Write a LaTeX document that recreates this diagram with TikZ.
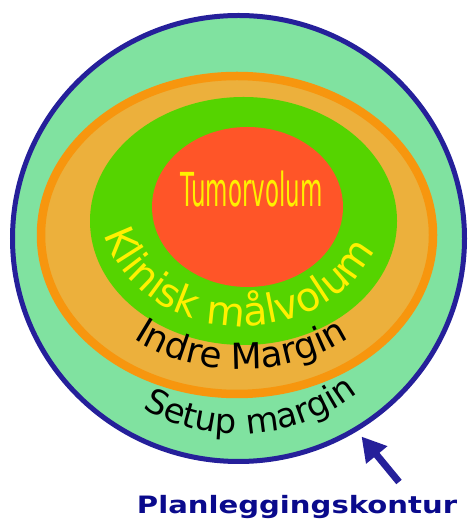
\documentclass[tikz,border=0pt]{standalone}
\usepackage{fontspec}
\setmainfont{DejaVu Sans}
\usetikzlibrary{decorations.text, arrows.meta}
\definecolor{setupgreen}{RGB}{128,226,160}
\definecolor{planblue}{RGB}{37,32,154}
\definecolor{textblue}{RGB}{10,10,140}
\definecolor{orangeline}{RGB}{247,150,14}
\definecolor{orangefill}{RGB}{236,176,60}
\definecolor{ctvgreen}{RGB}{85,212,0}
\definecolor{tumorred}{RGB}{255,85,40}
\definecolor{labelyellow}{RGB}{255,240,0}
\begin{document}
\begin{tikzpicture}[x=1bp,y=1bp,
  curvedlabel/.style={decorate, decoration={text along path, text align=center, text={#1}}}]
\useasboundingbox (0,0) rectangle (468,521);
% planning contour
\draw[fill=setupgreen, draw=planblue, line width=5bp] (238.5,282.5) ellipse [x radius=226, y radius=223];
% internal margin
\draw[fill=orangefill, draw=orangeline, line width=8.5bp] (237,286) ellipse [x radius=196, y radius=159];
% clinical target volume
\fill[ctvgreen] (243.5,300) ellipse [x radius=153.5, y radius=124];
% tumour volume
\fill[tumorred] (247.5,314) ellipse [x radius=95.5, y radius=80];
% labels
\node[anchor=base, text=labelyellow, font=\fontsize{47}{47}\selectfont, inner sep=0pt] (tumor) at (251.5,314) {\scalebox{0.49}[1]{Tumorvolum}};
\path[curvedlabel={|\color{labelyellow}\fontsize{40}{40}\selectfont|Klinisk målvolum}]
  (242,316) ++(176:142 and 121) arc[start angle=176, end angle=356, x radius=142, y radius=121];
\path[curvedlabel={|\color{black}\fontsize{36}{36}\selectfont|Indre Margin}]
  (241,286) ++(180:170 and 134) arc[start angle=180, end angle=360, x radius=170, y radius=134];
\path[curvedlabel={|\color{black}\fontsize{34}{34}\selectfont|Setup margin}]
  (239,280) ++(194:193) arc[start angle=194, end angle=354, radius=193];
\node[anchor=base, text=textblue, font=\bfseries\fontsize{24}{24}\selectfont, inner sep=0pt] (plan) at (297,7) {\scalebox{1.217}[1]{Planleggingskontur}};
\coordinate (tail) at (399,39);
\coordinate (tip) at (361.5,84.5);
\draw[planblue, line width=7bp, -{Triangle[width=26bp,length=24bp]}] (tail) -- (tip);
\end{tikzpicture}
\end{document}
